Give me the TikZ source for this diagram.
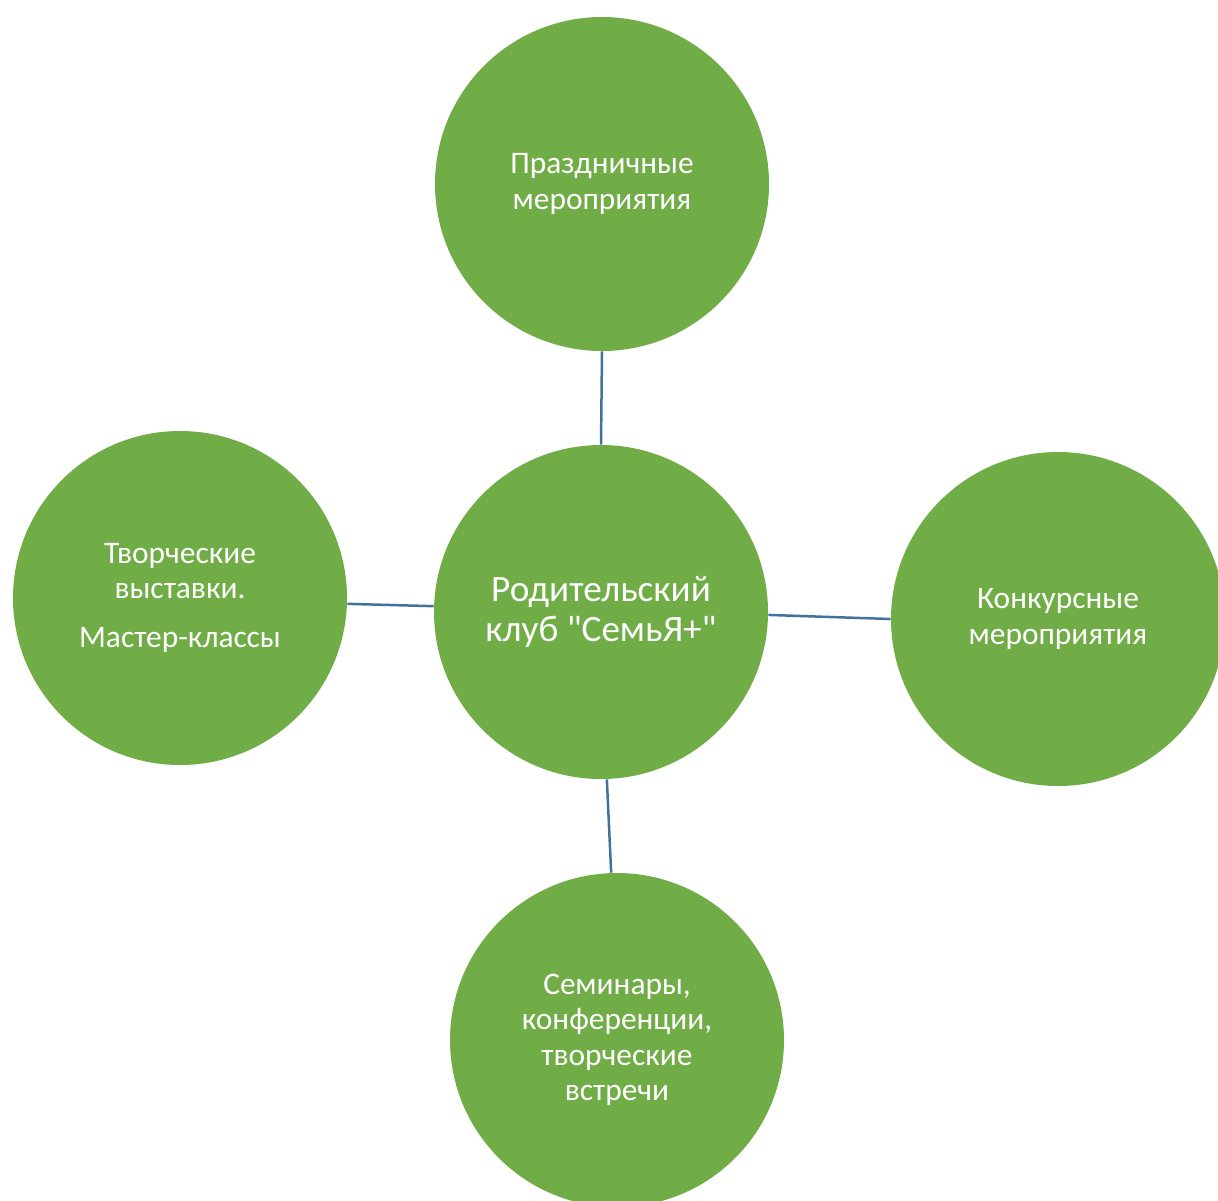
\documentclass[tikz,border=0pt]{standalone}
\usepackage{fontspec}
\setmainfont{Carlito}[Ligatures=TeXOff]
\usepackage{xcolor}
\definecolor{clubgreen}{HTML}{70AD47}
\definecolor{linkblue}{HTML}{41719C}

\tikzset{
	bubble/.style = {circle, fill=clubgreen, draw=none, minimum size=167pt, inner sep=0pt, align=center, text=white, font=\fontsize{15.7}{17.7}\selectfont},
	link/.style = {draw=linkblue, line width=1.25pt}
}

\begin{document}
\begin{tikzpicture}[x=0.5pt, y=-0.5pt]
	\useasboundingbox (0,0) rectangle (1218,1200);
	\clip (0,0) rectangle (1218,1200);
	\node [bubble] (top) at (602, 184) {Праздничные\\мероприятия};
	\node [bubble, font=\fontsize{18.6}{20}\selectfont] (club) at (601, 612) {Родительский\\клуб "СемьЯ+"};
	\node [bubble] (left) at (180, 598) {Творческие\\выставки.\\[7pt]Мастер-классы};
	\node [bubble] (right) at (1058, 619) {Конкурсные\\мероприятия};
	\node [bubble] (bottom) at (617, 1040) {Семинары,\\конференции,\\творческие\\встречи};
	\draw [link] (top.south) -- (club.north);
	\draw [link] (left.-2) -- (club.178);
	\draw [link] (club.-1) -- (right.west);
	\draw [link] (club.-88) -- (bottom.92);
\end{tikzpicture}
\end{document}
